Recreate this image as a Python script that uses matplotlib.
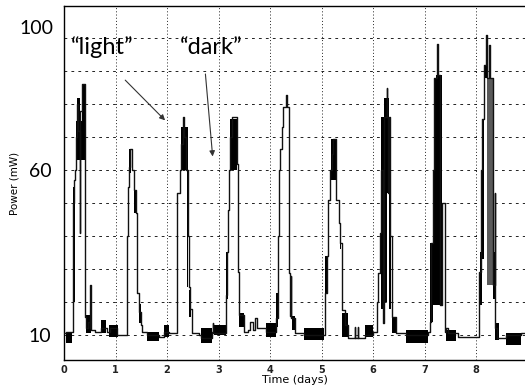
import numpy as np
import matplotlib
matplotlib.use("Agg")
import matplotlib.pyplot as plt

# ---- data ----
# main trace (time in days, power in mW), drawn as steps
trace_t = [0.00, 0.04, 0.17, 0.19, 0.21, 0.23, 0.26, 0.28, 0.30, 0.31, 0.34, 0.41, 0.43, 0.46,
           0.50, 0.51, 0.52, 0.60, 0.71, 0.84, 0.90, 1.03,
           1.22, 1.23, 1.24, 1.26, 1.28, 1.31, 1.35, 1.39, 1.42, 1.45, 1.49, 1.52, 1.62, 1.84, 1.94, 2.04,
           2.19, 2.20, 2.25, 2.27, 2.30, 2.32, 2.37, 2.40, 2.42, 2.45, 2.49, 2.62, 2.66, 2.88, 2.89, 2.90,
           3.14, 3.16, 3.18, 3.20, 3.23, 3.26, 3.35, 3.37, 3.40, 3.50, 3.58, 3.62, 3.66, 3.70, 3.74, 3.83,
           3.92, 4.11, 4.15, 4.17, 4.20, 4.23, 4.25, 4.30, 4.33, 4.36, 4.38, 4.40, 4.41, 4.49, 4.66, 5.05,
           5.07, 5.10, 5.13, 5.17, 5.20, 5.23, 5.29, 5.33, 5.36, 5.39, 5.45, 5.52, 5.64, 5.65, 5.70, 5.71,
           5.85, 6.00, 6.08, 6.10, 6.13, 6.16, 6.20, 6.21, 6.27, 6.28, 6.29, 6.30, 6.33, 6.36, 6.45, 6.64,
           7.06, 7.10, 7.13, 7.16, 7.19, 7.25, 7.26, 7.30, 7.34, 7.39, 7.40, 7.41, 7.45, 7.65, 8.04,
           8.06, 8.09, 8.12, 8.155, 8.20, 8.21, 8.26, 8.27, 8.32, 8.36, 8.37, 8.40, 8.58, 8.87, 8.95]
trace_p = [10.5, 11, 50, 57, 60, 70, 80, 72, 41, 78, 86, 15.5, 12, 14,
           12, 25, 11.5, 11, 12, 11, 12, 10,
           14, 40, 55, 61, 66.5, 60, 54, 47, 22.6, 17, 13, 11, 10, 9.5, 11, 10.5,
           18.6, 53, 60, 68, 76, 70, 60, 40, 24.6, 18, 10.5, 10, 9, 11, 13.5, 10.5,
           22, 35, 48, 60, 70, 76, 62, 29, 16, 11, 11.5, 14, 11.5, 15, 12, 12,
           11, 15, 40, 60, 66.5, 73, 79, 82.7, 79, 28.7, 15.6, 28, 15, 10.5, 10, 10,
           22.6, 34, 51, 60, 65, 69.5, 51, 44, 38, 17.6, 13, 9, 12.5, 9, 12.5, 9,
           10, 11, 20, 28.7, 41, 60, 13.6, 76, 85, 76, 53, 76, 40, 15.5, 10.5, 10,
           11, 14, 38, 60, 88, 98.4, 88.8, 19, 50, 29, 11, 12, 10.5, 9.5, 9.5,
           29, 60, 75.6, 92, 101, 88, 98, 88, 25, 53, 12, 9, 10, 10.5, 10.5]

# dense (fast switching) stretches, drawn as solid blocks
block_t0 = [0.04, 0.18, 0.23, 0.25, 0.34, 0.43, 0.72, 0.88, 1.26, 1.35, 1.45, 1.62, 1.94,
            2.27, 2.38, 2.43, 2.66, 2.91, 3.14, 3.23, 3.40, 3.92, 4.11, 4.30, 4.43, 4.66,
            5.07, 5.19, 5.35, 5.39, 5.85, 6.16, 6.16, 6.21, 6.31, 6.21, 6.36, 6.64,
            7.10, 7.16, 7.19, 7.23, 7.41, 8.07, 8.12, 8.155, 8.32, 8.36, 8.58]
block_t1 = [0.15, 0.21, 0.41, 0.30, 0.41, 0.52, 0.82, 1.04, 1.30, 1.42, 1.49, 1.84, 2.04,
            2.40, 2.41, 2.46, 2.88, 3.14, 3.18, 3.35, 3.50, 4.11, 4.16, 4.33, 4.49, 5.05,
            5.12, 5.29, 5.37, 5.52, 6.00, 6.33, 6.19, 6.28, 6.34, 6.31, 6.45, 7.06,
            7.16, 7.19, 7.23, 7.34, 7.61, 8.12, 8.155, 8.24, 8.37, 8.45, 8.87]
block_lo = [7.5, 20, 63, 75, 75, 10.5, 10.5, 9.5, 59, 47, 13.5, 8, 9.5,
            60, 24.6, 15.5, 7.5, 10, 21, 60, 12.5, 9.5, 12.5, 79, 11.5, 8.5,
            22.6, 57, 36, 9.5, 9.5, 53, 18, 20, 18, 76, 10.5, 7.5,
            14, 19, 19, 19, 8, 19, 33, 88, 21, 8.5, 7]
block_hi = [11, 55, 75, 82, 86, 16, 14.5, 13, 66.5, 54, 19.5, 11, 13,
            73, 60, 23.5, 12, 13, 35, 75.6, 16.6, 13.5, 22.6, 82.7, 15.6, 12,
            34, 69.5, 44, 16.6, 13, 76, 53, 53, 53, 82, 15.5, 11.5,
            38, 60, 88, 88.8, 11.5, 35, 75.6, 92, 35, 13.5, 10.5]

# grey (partly resolved) stretch inside the last peak
grey_t0 = [8.21]
grey_t1 = [8.32]
grey_lo = [25]
grey_hi = [88]

x_ticks = [0, 1, 2, 3, 4, 5, 6, 7, 8]
y_grid = [10, 20, 30, 40, 50, 60, 70, 80, 90, 100]
y_labels = {10: "10", 60: "60"}

plt.rcParams["lines.scale_dashes"] = False
hand = ["Lato", "DejaVu Sans"]

fig = plt.figure(figsize=(5.25, 3.87), dpi=100)
ax = fig.add_axes([0.122, 0.070, 0.878, 0.9145])

ax.set_xlim(0, 8.95)
ax.set_ylim(2.4, 109.8)

# grid
for x in x_ticks[1:]:
    ax.axvline(x, color="#222", lw=0.7, ls=(0, (0.7, 1.6)), zorder=0)
for y in y_grid:
    ax.axhline(y, color="#222", lw=0.7, ls=(0, (2.0, 3.0)), zorder=0)

ax.bar(grey_t0, np.subtract(grey_hi, grey_lo), width=np.subtract(grey_t1, grey_t0),
       bottom=grey_lo, align="edge", color="#5a5a5a", lw=0, zorder=2.5)
ax.bar(block_t0, np.subtract(block_hi, block_lo), width=np.subtract(block_t1, block_t0),
       bottom=block_lo, align="edge", color="black", lw=0, zorder=2)
ax.plot(trace_t, trace_p, drawstyle="steps-post", color="#111", lw=1.0, zorder=3)

ax.set_xticks(x_ticks)
ax.set_xticklabels([str(v) for v in x_ticks], fontsize=7, fontweight="bold", color="#222")
ax.tick_params(axis="x", length=0, pad=4)
ax.set_yticks(y_grid)
ax.set_yticklabels([y_labels.get(v, "") for v in y_grid], fontsize=14, family=hand,
                   color="black")
ax.tick_params(axis="y", length=0, pad=9)
ax.text(-0.2, 103, "100", fontsize=14, family=hand, color="black",
        ha="right", va="center", clip_on=False)

ax.set_xlabel("Time (days)", fontsize=8, labelpad=0)
ax.set_ylabel("Power (mW)", fontsize=7.5, labelpad=7)

for s in ["left", "bottom", "top"]:
    ax.spines[s].set_linewidth(1.0)
ax.spines["right"].set_visible(False)

ax.text(0.74, 97.3, "\u201clight\u201d", ha="center", va="center",
        fontsize=17, family=hand, color="black")
ax.text(2.85, 97.3, "\u201cdark\u201d", ha="center", va="center",
        fontsize=17, family=hand, color="black")
ax.annotate("", xy=(2.0, 74.5), xytext=(1.15, 87.9),
            arrowprops=dict(arrowstyle="-|>", lw=0.8, color="#333", mutation_scale=8))
ax.annotate("", xy=(2.89, 63.3), xytext=(2.74, 90),
            arrowprops=dict(arrowstyle="-|>", lw=0.8, color="#333", mutation_scale=8))

fig.savefig("out.png", dpi=100)
